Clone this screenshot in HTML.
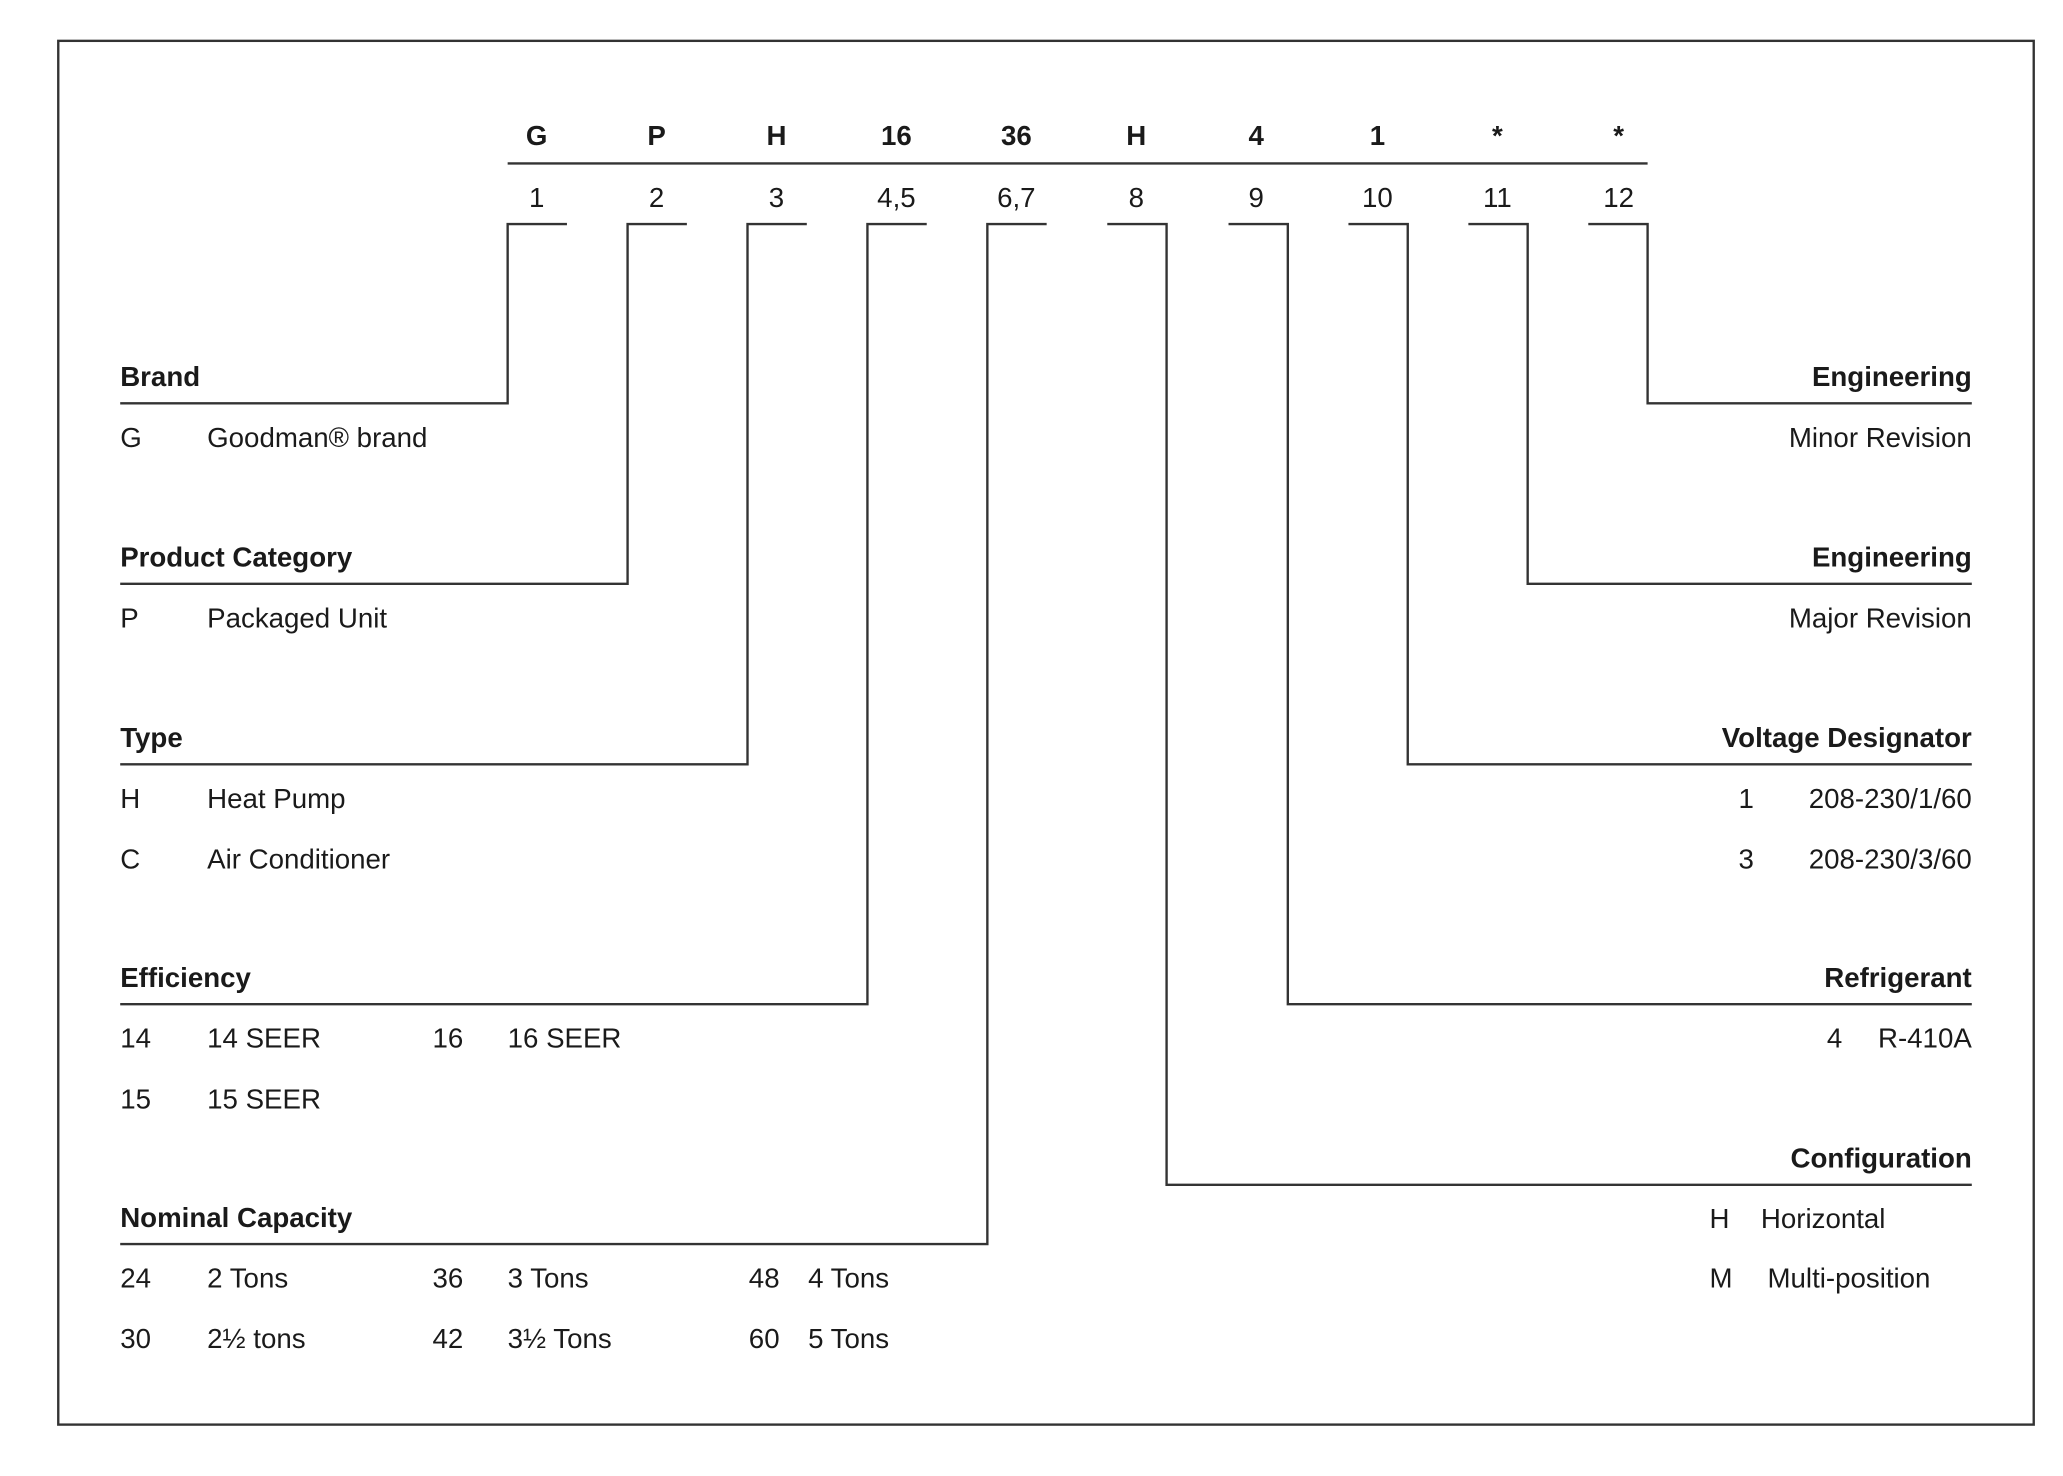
<!DOCTYPE html>
<html><head><meta charset="utf-8"><style>
html,body{margin:0;padding:0;background:#fff;}
svg{display:block;}
text{font-family:"Liberation Sans",Arial,sans-serif;font-size:21px;fill:#1a1a1a;}
.b{font-weight:bold;}
.m{text-anchor:middle;}
.e{text-anchor:end;}
</style></head><body>
<svg width="2063" height="1476" viewBox="0 0 1565 1120" xmlns="http://www.w3.org/2000/svg">
<g fill="none" stroke="#333" stroke-width="1.8">
<rect x="44" y="31" width="1499" height="1050"/>
<line x1="385" y1="124" x2="1250" y2="124"/>
<polyline points="430,170 385,170 385,306 91,306"/>
<polyline points="521,170 476,170 476,443 91,443"/>
<polyline points="612,170 567,170 567,580 91,580"/>
<polyline points="703,170 658,170 658,762 91,762"/>
<polyline points="794,170 749,170 749,944 91,944"/>
<polyline points="840,170 885,170 885,899 1496,899"/>
<polyline points="932,170 977,170 977,762 1496,762"/>
<polyline points="1023,170 1068,170 1068,580 1496,580"/>
<polyline points="1114,170 1159,170 1159,443 1496,443"/>
<polyline points="1205,170 1250,170 1250,306 1496,306"/>
</g>
<text class="m b" x="407" y="110">G</text>
<text class="m b" x="498" y="110">P</text>
<text class="m b" x="589" y="110">H</text>
<text class="m b" x="680" y="110">16</text>
<text class="m b" x="771" y="110">36</text>
<text class="m b" x="862" y="110">H</text>
<text class="m b" x="953" y="110">4</text>
<text class="m b" x="1045" y="110">1</text>
<text class="m b" x="1136" y="110">*</text>
<text class="m b" x="1228" y="110">*</text>
<text class="m" x="407" y="157">1</text>
<text class="m" x="498" y="157">2</text>
<text class="m" x="589" y="157">3</text>
<text class="m" x="680" y="157">4,5</text>
<text class="m" x="771" y="157">6,7</text>
<text class="m" x="862" y="157">8</text>
<text class="m" x="953" y="157">9</text>
<text class="m" x="1045" y="157">10</text>
<text class="m" x="1136" y="157">11</text>
<text class="m" x="1228" y="157">12</text>

<text class="b" x="91" y="293">Brand</text>
<text x="91" y="339">G</text><text x="157" y="339">Goodman® brand</text>
<text class="b" x="91" y="430">Product Category</text>
<text x="91" y="476">P</text><text x="157" y="476">Packaged Unit</text>
<text class="b" x="91" y="567">Type</text>
<text x="91" y="613">H</text><text x="157" y="613">Heat Pump</text>
<text x="91" y="659">C</text><text x="157" y="659">Air Conditioner</text>
<text class="b" x="91" y="749">Efficiency</text>
<text x="91" y="795">14</text><text x="157" y="795">14 SEER</text>
<text x="328" y="795">16</text><text x="385" y="795">16 SEER</text>
<text x="91" y="841">15</text><text x="157" y="841">15 SEER</text>
<text class="b" x="91" y="931">Nominal Capacity</text>
<text x="91" y="977">24</text><text x="157" y="977">2 Tons</text>
<text x="328" y="977">36</text><text x="385" y="977">3 Tons</text>
<text x="568" y="977">48</text><text x="613" y="977">4 Tons</text>
<text x="91" y="1023">30</text><text x="157" y="1023">2½ tons</text>
<text x="328" y="1023">42</text><text x="385" y="1023">3½ Tons</text>
<text x="568" y="1023">60</text><text x="613" y="1023">5 Tons</text>

<text class="b e" x="1496" y="293">Engineering</text>
<text class="e" x="1496" y="339">Minor Revision</text>
<text class="b e" x="1496" y="430">Engineering</text>
<text class="e" x="1496" y="476">Major Revision</text>
<text class="b e" x="1496" y="567">Voltage Designator</text>
<text x="1319" y="613">1</text><text class="e" x="1496" y="613">208-230/1/60</text>
<text x="1319" y="659">3</text><text class="e" x="1496" y="659">208-230/3/60</text>
<text class="b e" x="1496" y="749">Refrigerant</text>
<text x="1386" y="795">4</text><text class="e" x="1496" y="795">R-410A</text>
<text class="b e" x="1496" y="886">Configuration</text>
<text x="1297" y="932">H</text><text x="1336" y="932">Horizontal</text>
<text x="1297" y="977">M</text><text x="1341" y="977">Multi-position</text>
</svg>
</body></html>
